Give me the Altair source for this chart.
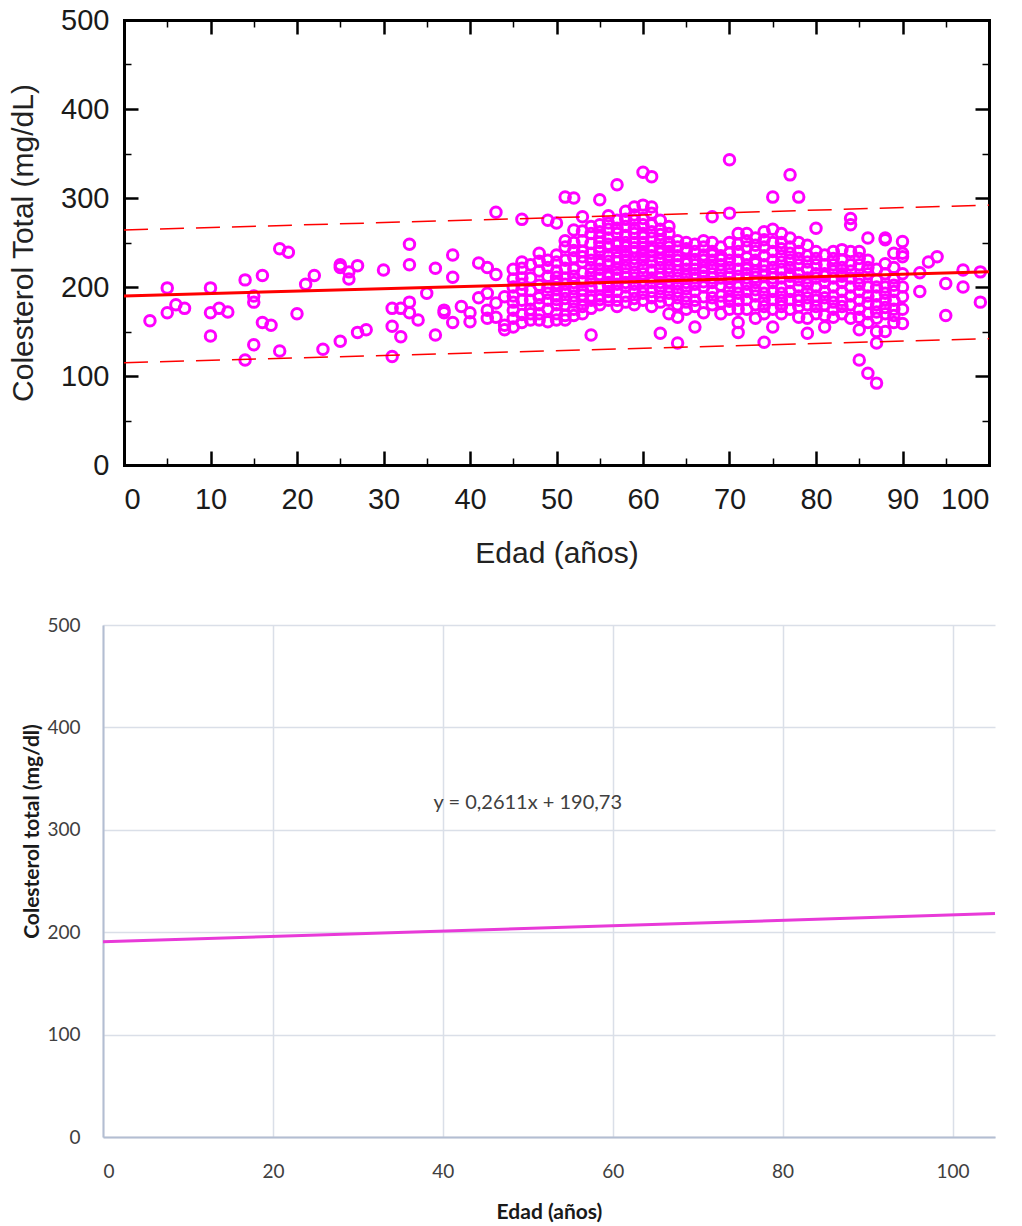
import altair as alt
import pandas as pd

# ---------------- data ----------------
group_ages = [3, 5, 6, 7, 10, 11, 12, 14, 15, 16, 17, 18, 19, 20, 21, 22, 23, 25, 26, 27,
              28, 30, 31, 32, 33, 34, 35, 36, 37, 38, 39, 40, 41, 42, 43, 44, 45, 46, 47, 48,
              49, 50, 51, 52, 53, 54, 55, 56, 57, 58, 59, 60, 61, 62, 63, 64, 65, 66, 67, 68,
              69, 70, 71, 72, 73, 74, 75, 76, 77, 78, 79, 80, 81, 82, 83, 84, 85, 86, 87, 88,
              89, 90, 92, 93, 94, 95, 97, 99]
chol_groups = [
    [162], [199, 171], [180], [176], [199, 171, 145], [176], [172], [208, 118],
    [183, 135, 190], [213, 160], [157], [243, 128], [239], [170], [203], [213], [130],
    [225, 222, 139], [217, 209], [224, 149], [152], [219], [122, 156, 176], [176, 144],
    [248, 225, 183, 171], [163], [193], [221, 146], [171, 174], [236, 211, 160], [178],
    [161, 171], [227, 188], [222, 165, 174, 193], [284, 214, 182, 166], [157, 152, 189],
    [200, 174, 190, 165, 220, 155, 183, 209],
    [276, 221, 210, 197, 185, 169, 228, 160, 203],
    [185, 163, 196, 175, 210, 225, 170],
    [238, 202, 188, 170, 218, 180, 163, 229],
    [230, 185, 161, 275, 200, 212, 175, 193, 222],
    [272, 204, 163, 218, 190, 180, 228, 170, 197, 211, 186, 236],
    [301, 245, 180, 163, 195, 210, 230, 168, 187, 221, 203, 252],
    [300, 233, 264, 190, 205, 175, 220, 250, 183, 212, 241, 198, 168],
    [279, 216, 197, 240, 185, 170, 228, 206, 252, 191, 178, 234, 263],
    [146, 185, 249, 200, 215, 230, 260, 190, 176, 207, 222, 238, 268],
    [298, 230, 210, 250, 270, 190, 220, 180, 240, 262, 201, 214, 226, 245, 186, 256],
    [280, 245, 225, 205, 195, 265, 235, 185, 215, 255, 202, 229, 248, 272, 211, 189],
    [315, 178, 210, 240, 260, 228, 195, 275, 250, 220, 185, 203, 233, 247, 266, 214],
    [285, 230, 205, 250, 268, 215, 190, 240, 222, 200, 183, 258, 236, 211, 276, 245],
    [290, 260, 240, 225, 210, 195, 275, 250, 180, 232, 203, 217, 266, 244, 187, 281],
    [329, 292, 270, 250, 230, 215, 200, 185, 260, 240, 222, 207, 193, 236, 277, 256, 244],
    [324, 290, 262, 245, 228, 210, 195, 178, 255, 235, 205, 219, 188, 270, 241, 283],
    [148, 275, 252, 238, 222, 205, 190, 265, 215, 230, 198, 244, 183, 259, 210],
    [250, 230, 215, 200, 185, 240, 222, 170, 260, 207, 193, 236, 268, 245],
    [137, 166, 245, 225, 210, 195, 235, 180, 218, 203, 252, 188, 230],
    [240, 220, 205, 190, 230, 250, 212, 198, 226, 183, 243, 175],
    [155, 225, 210, 195, 240, 215, 185, 231, 203, 248, 178, 220],
    [171, 230, 212, 200, 245, 222, 189, 236, 206, 217, 252],
    [279, 240, 215, 195, 230, 180, 250, 205, 222, 188, 236, 210],
    [235, 210, 190, 225, 170, 245, 202, 218, 183, 231],
    [343, 283, 230, 205, 190, 215, 250, 175, 222, 198, 238, 211, 184],
    [149, 260, 220, 200, 185, 240, 160, 230, 212, 193, 248, 175],
    [245, 210, 195, 225, 175, 260, 215, 203, 233, 186, 252, 220],
    [255, 230, 205, 190, 240, 165, 218, 180, 247, 211, 197, 226],
    [138, 262, 225, 200, 185, 245, 170, 212, 235, 193, 253, 178, 218],
    [301, 265, 240, 215, 195, 175, 230, 205, 155, 222, 186, 250, 210],
    [250, 220, 200, 185, 260, 235, 170, 210, 243, 193, 228, 178],
    [326, 245, 215, 195, 230, 175, 255, 205, 222, 186, 238, 212],
    [301, 240, 215, 190, 225, 200, 178, 250, 232, 208, 185, 166],
    [148, 247, 220, 195, 180, 210, 235, 165, 228, 203, 188],
    [266, 225, 200, 185, 240, 170, 210, 190, 232, 215, 178],
    [155, 236, 215, 195, 180, 225, 205, 188, 168, 212],
    [240, 210, 190, 175, 225, 200, 183, 218, 232, 166],
    [242, 215, 195, 170, 230, 205, 185, 222, 178, 212],
    [277, 270, 225, 200, 180, 165, 240, 210, 190, 218],
    [118, 152, 225, 195, 175, 210, 240, 185, 203, 166, 232],
    [103, 255, 215, 190, 170, 230, 200, 182, 222, 160],
    [92, 137, 200, 180, 165, 220, 190, 172, 208, 150],
    [253, 255, 200, 170, 185, 215, 150, 193, 177, 226],
    [238, 160, 195, 175, 210, 185, 168, 202, 222],
    [238, 251, 234, 200, 189, 159, 175, 215],
    [216, 195], [228], [234], [204, 168], [219, 200], [217, 183],
]

# fitted line and prediction band of the upper panel (end values)
line_x = [0, 100]
fit_y = [190, 217]
upper_y = [264, 292]
lower_y = [115, 142]

# lower panel: Excel trend line  y = 0,2611x + 190,73
trend_x = [0, 105]
trend_y = [190.73, 218.15]
eq_x = [50]
eq_y = [326]
eq_text = ["y = 0,2611x + 190,73"]

x_major = [0, 10, 20, 30, 40, 50, 60, 70, 80, 90, 100]
x_minor = [5, 15, 25, 35, 45, 55, 65, 75, 85, 95]
y_major = [0, 100, 200, 300, 400, 500]
y_minor = [50, 150, 250, 350, 450]
x_ticks_bottom = [0, 20, 40, 60, 80, 100]

# ---------------- tables ----------------
age = [a for a, vals in zip(group_ages, chol_groups) for _ in vals]
chol = [v for vals in chol_groups for v in vals]
points = pd.DataFrame({"edad": age, "col": chol})
bands = pd.DataFrame({"edad": line_x, "fit": fit_y, "up": upper_y, "lo": lower_y})
trend = pd.DataFrame({"edad": trend_x, "col": trend_y})
eq = pd.DataFrame({"x": eq_x, "y": eq_y, "t": eq_text})

# ---------------- upper panel ----------------
TF = "Liberation Sans"
SHIFT = 21          # upper frame starts 21px to the right of the lower plot area
TW = 886            # group width of the upper panel (frame is TW - SHIFT wide)
xs = alt.Scale(domain=[0, 100], nice=False, zero=False, range=[SHIFT, TW])
ys = alt.Scale(domain=[0, 500], nice=False)
MAJ = 14
MIN = 7


def ax(orient, values, size, width, frame=False, labels=False, title=None, pad=0, tpad=0, offset=0):
    kw = dict(orient=orient, values=values, tickSize={"expr": str(-size)}, tickWidth=width,
              tickColor="black", grid=False, labels=labels, offset=offset, domain=frame)
    if frame:
        kw.update(domainColor="black", domainWidth=3, domainCap="square")
    if labels:
        kw.update(labelFont=TF, labelFontSize=29, labelColor="#1a1a1a", labelPadding=pad + size)
    if title:
        kw.update(title=title, titleFont=TF, titleFontSize=30, titleFontWeight="normal",
                  titleColor="#222222", titlePadding=tpad)
    return alt.Axis(**kw)


pts = alt.Chart(points).mark_point(shape="circle", filled=False, color="#FF00FF",
                                   strokeWidth=3, size=110, opacity=1).encode(
    x=alt.X("edad:Q", scale=xs,
            axis=ax("bottom", x_major, MAJ, 2.5, True, True, "Edad (años)", 20, 24)),
    y=alt.Y("col:Q", scale=ys,
            axis=ax("left", y_major, MAJ, 2.5, True, True, "Colesterol Total (mg/dL)", 15, 22,
                    offset=-SHIFT)),
)
fit = alt.Chart(bands).mark_line(color="#FF0000", strokeWidth=3).encode(
    x=alt.X("edad:Q", scale=xs, axis=ax("top", x_major, MAJ, 2.5, True), title=None),
    y=alt.Y("fit:Q", scale=ys, axis=ax("right", y_major, MAJ, 2.5, True), title=None),
)
up = alt.Chart(bands).mark_line(color="#FF0000", strokeWidth=1.5, strokeDash=[24, 12]).encode(
    x=alt.X("edad:Q", scale=xs, axis=ax("bottom", x_minor, MIN, 1.5), title=None),
    y=alt.Y("up:Q", scale=ys, axis=ax("left", y_minor, MIN, 1.5, offset=-SHIFT), title=None),
)
lo = alt.Chart(bands).mark_line(color="#FF0000", strokeWidth=1.5, strokeDash=[24, 12]).encode(
    x=alt.X("edad:Q", scale=xs, axis=ax("top", x_minor, MIN, 1.5), title=None),
    y=alt.Y("lo:Q", scale=ys, axis=ax("right", y_minor, MIN, 1.5), title=None),
)

top = alt.layer(pts, fit, up, lo).resolve_axis(x="independent", y="independent").properties(
    width=TW, height=445)

# ---------------- lower panel ----------------
BF = "Lato"
bx = alt.Scale(domain=[0, 105], nice=False, zero=False)
by = alt.Scale(domain=[0, 500], nice=False)
common = dict(grid=True, gridColor="#DADFE8", gridWidth=1.5, domainColor="#B3BED2", domainWidth=2,
              ticks=False, labelFont=BF, labelFontSize=19, labelColor="#404040",
              titleFont=BF, titleFontSize=21, titleFontWeight="bold", titleColor="#1a1a1a")

tline = alt.Chart(trend).mark_line(color="#E83AD8", strokeWidth=3).encode(
    x=alt.X("edad:Q", scale=bx, axis=alt.Axis(values=x_ticks_bottom, labelPadding=25,
                                                title="Edad (años)", titlePadding=20, **common)),
    y=alt.Y("col:Q", scale=by, axis=alt.Axis(values=y_major, labelPadding=23, titleY=206,
                                               title="Colesterol total (mg/dl)", titlePadding=4, **common)),
)
eqt = alt.Chart(eq).mark_text(font=BF, fontSize=20, color="#404040").encode(
    x=alt.X("x:Q", scale=bx), y=alt.Y("y:Q", scale=by), text="t:N")

bottom = alt.layer(tline, eqt).properties(width=892, height=512)

chart = alt.vconcat(top, bottom, spacing=48).properties(
    padding={"left": 8, "top": 6, "right": 5, "bottom": 5}
).configure_view(strokeWidth=0)

chart.save("out.html", embed_options={"renderer": "svg", "actions": False})
